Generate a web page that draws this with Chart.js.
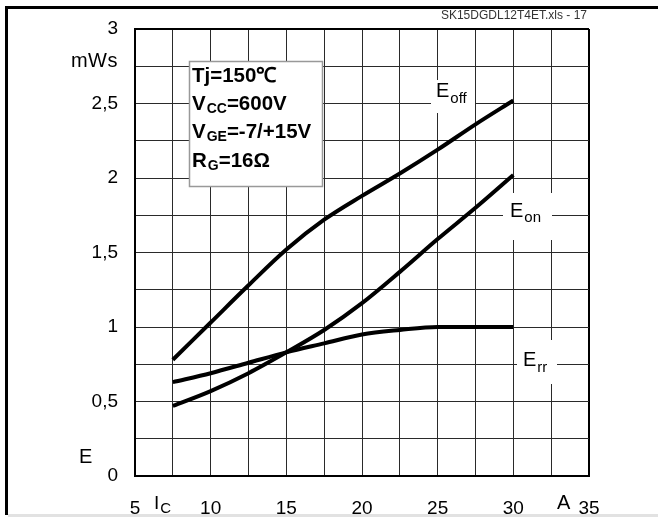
<!DOCTYPE html>
<html>
<head>
<meta charset="utf-8">
<script src="https://cdn.jsdelivr.net/npm/chart.js@4"></script>
<style>
  html, body { margin: 0; padding: 0; background: #fff; }
  canvas { display: block; }
</style>
</head>
<body>
<canvas id="chart" width="658" height="517"></canvas>
<script>
// collector current (A) and switching energies (mWs)
const currents = [7.5, 10, 12.5, 15, 17.5, 20, 22.5, 25, 27.5, 30];
const eoff = [0.78, 1.03, 1.28, 1.52, 1.72, 1.88, 2.03, 2.19, 2.36, 2.52];
const eon  = [0.47, 0.57, 0.69, 0.83, 0.98, 1.16, 1.37, 1.59, 1.80, 2.02];
const err  = [0.63, 0.69, 0.76, 0.83, 0.89, 0.95, 0.98, 1.00, 1.00, 1.00];

const xTicks = [5, 10, 15, 20, 25, 30, 35];
const yTicks = [0, 0.5, 1, 1.5, 2, 2.5, 3];

const FONT = '"Liberation Sans", Arial, sans-serif';

function points(ys) {
    return currents.map((x, i) => ({ x, y: ys[i] }));
}

function curve(label, ys) {
    return {
        label,
        data: points(ys),
        borderColor: '#000',
        borderWidth: 4,
        pointRadius: 0,
        fill: false,
        cubicInterpolationMode: 'monotone',
    };
}

// text with a subscript, left aligned at x, baseline y
function subText(ctx, x, y, main, sub, mainFont, subFont, dy) {
    ctx.textAlign = 'left';
    ctx.textBaseline = 'alphabetic';
    ctx.font = mainFont;
    ctx.fillText(main, x, y);
    const w = ctx.measureText(main).width;
    ctx.font = subFont;
    ctx.fillText(sub, x + w + 1, y + dy);
    return x + w + 1 + ctx.measureText(sub).width;
}

const deco = {
    id: 'deco',
    beforeDatasetsDraw(chart) {
        const ctx = chart.ctx;
        ctx.save();
        // white patches behind the curve labels
        ctx.fillStyle = '#fff';
        ctx.fillRect(431, 80, 44, 33);
        ctx.fillRect(503, 193, 49, 47);
        ctx.fillRect(517, 340, 40, 44);

        ctx.fillStyle = '#000';
        subText(ctx, 436, 97, 'E', 'off', '20px ' + FONT, '15px ' + FONT, 6);
        subText(ctx, 510, 217, 'E', 'on', '20px ' + FONT, '15px ' + FONT, 5);
        subText(ctx, 523, 366, 'E', 'rr', '20px ' + FONT, '15px ' + FONT, 6);

        // condition box
        ctx.fillStyle = '#fff';
        ctx.fillRect(189, 61, 134, 126);
        ctx.strokeStyle = '#999';
        ctx.lineWidth = 1.5;
        ctx.strokeRect(189.5, 61.5, 133, 125);

        ctx.fillStyle = '#000';
        const bold = 'bold 20.5px ' + FONT;
        const boldSub = 'bold 14px ' + FONT;
        ctx.font = bold;
        ctx.textAlign = 'left';
        ctx.textBaseline = 'alphabetic';
        ctx.fillText('Tj=150\u2103', 192, 82);
        let x = subText(ctx, 192, 110, 'V', 'CC', bold, boldSub, 3);
        ctx.font = bold;
        ctx.fillText('=600V', x, 110);
        x = subText(ctx, 192, 138, 'V', 'GE', bold, boldSub, 3);
        ctx.font = bold;
        ctx.fillText('=-7/+15V', x, 138);
        x = subText(ctx, 192, 167, 'R', 'G', bold, boldSub, 3);
        ctx.font = bold;
        ctx.fillText('=16\u03a9', x, 167);
        ctx.restore();
    },
    afterDraw(chart) {
        const ctx = chart.ctx;
        ctx.save();
        // page frame
        ctx.fillStyle = '#000';
        ctx.fillRect(5, 6, 653, 3);
        ctx.fillRect(5, 6, 3, 509);
        ctx.fillStyle = '#e2e2e2';
        ctx.fillRect(8, 514, 650, 3);

        // file tag
        ctx.fillStyle = '#333';
        ctx.font = '12px ' + FONT;
        ctx.textAlign = 'right';
        ctx.textBaseline = 'middle';
        ctx.fillText('SK15DGDL12T4ET.xls - 17', 587, 16);

        // axis names
        ctx.fillStyle = '#000';
        ctx.textBaseline = 'alphabetic';
        ctx.font = '20px ' + FONT;
        ctx.letterSpacing = '0.5px';
        ctx.textAlign = 'right';
        ctx.fillText('mWs', 118, 67);
        ctx.letterSpacing = '0px';
        ctx.textAlign = 'left';
        ctx.fillText('E', 79, 463);
        ctx.fillText('A', 557, 509);
        subText(ctx, 154, 509, 'I', 'C', '19px ' + FONT, '15px ' + FONT, 4);
        ctx.restore();
    }
};

const isEdge = (v, edge) => Math.abs(v - edge) < 1e-6;

new Chart(document.getElementById('chart'), {
    type: 'line',
    data: {
        datasets: [curve('Eoff', eoff), curve('Eon', eon), curve('Err', err)],
    },
    options: {
        responsive: false,
        animation: false,
        devicePixelRatio: 1,
        layout: { padding: { top: 29, right: 69, left: 0, bottom: 0 } },
        plugins: { legend: { display: false }, tooltip: { enabled: false } },
        scales: {
            x: {
                type: 'linear',
                min: 5,
                max: 35,
                afterFit(s) { s.height = 41; },
                ticks: {
                    stepSize: 2.5,
                    autoSkip: false,
                    maxRotation: 0,
                    padding: 21,
                    color: '#000',
                    font: { family: FONT, size: 19 },
                    callback: v => (xTicks.includes(v) ? String(v) : ''),
                },
                grid: {
                    drawTicks: false,
                    color: c => (c.tick && isEdge(c.tick.value, 35) ? '#000' : '#2a2a2a'),
                    lineWidth: c => (c.tick && isEdge(c.tick.value, 35) ? 2 : 1),
                },
                border: { color: '#000', width: 2 },
            },
            y: {
                min: 0,
                max: 3,
                afterFit(s) { s.width = 135; },
                ticks: {
                    stepSize: 0.25,
                    autoSkip: false,
                    padding: 17,
                    color: '#000',
                    font: { family: FONT, size: 19 },
                    callback: v => (yTicks.some(t => isEdge(t, v)) ? String(v).replace('.', ',') : ''),
                },
                grid: {
                    drawTicks: false,
                    color: c => (c.tick && isEdge(c.tick.value, 3) ? '#000' : '#2a2a2a'),
                    lineWidth: c => (c.tick && isEdge(c.tick.value, 3) ? 2 : 1),
                },
                border: { color: '#000', width: 2 },
            },
        },
    },
    plugins: [deco],
});
</script>
</body>
</html>
